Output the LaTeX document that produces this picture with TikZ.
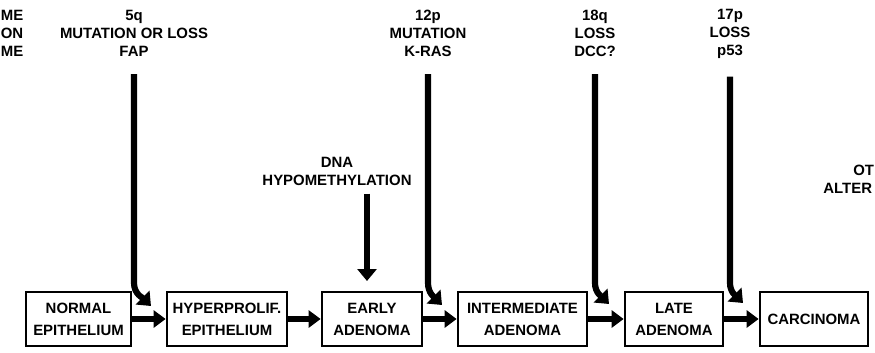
\documentclass[tikz,border=0pt]{standalone}
\usepackage{fontspec}
\setmainfont{Liberation Sans}
\usepackage{tikz}
\usetikzlibrary{arrows.meta,calc}
\pgfkeys{tikz/stagebox/.style={draw,line width=1.6pt,minimum height=1.08cm,align=center,inner sep=1pt,font=\bfseries\fontsize{8.5}{12.5}\selectfont}}
\pgfkeys{tikz/eventlabel/.style={align=center,inner sep=0pt,font=\bfseries\fontsize{8.5}{10.3}\selectfont}}
\pgfkeys{tikz/steparrow/.style={line width=3pt,-{Triangle[length=0.24cm,width=0.34cm]}}}
\pgfkeys{tikz/hitarrow/.style={line width=3.5pt,-{Triangle[length=0.24cm,width=0.38cm]}}}
\newcommand*\hitstage[2]{
    \draw[hitarrow,shorten <=0.35cm] (#1.south) -- (#1.south |- bend)
        to[out=-90,in=135] (#2);
}

\begin{document}
\begin{tikzpicture}[x=0.02cm,y=-0.02cm]
    \useasboundingbox (0,0) rectangle (875,352);
    \node[stagebox,minimum width=2.1cm] (normal) at (78.5,319) {NORMAL\\EPITHELIUM};
    \node[stagebox,minimum width=2.4cm] (hyper) at (227,319) {HYPERPROLIF.\\EPITHELIUM};
    \node[stagebox,minimum width=2.0cm] (early) at (372,319) {EARLY\\ADENOMA};
    \node[stagebox,minimum width=2.58cm] (inter) at (522.5,319) {INTERMEDIATE\\ADENOMA};
    \node[stagebox,minimum width=1.96cm] (late) at (674,319) {LATE\\ADENOMA};
    \node[stagebox,minimum width=2.16cm] (carc) at (814,319) {CARCINOMA};
    \foreach \a/\b in {normal/hyper,hyper/early,early/inter,inter/late,late/carc}
        \draw[steparrow] (\a) -- (\b);

    \node[eventlabel,anchor=west,align=left] (side) at (0.5,33) {ME\\ON\\ME};
    \node[eventlabel] (l5q) at (134,33) {5q\\MUTATION OR LOSS\\FAP};
    \node[eventlabel] (l12p) at (428,33) {12p\\MUTATION\\K-RAS};
    \node[eventlabel] (l18q) at (595,33) {18q\\LOSS\\DCC?};
    \node[eventlabel] (l17p) at (730,34) {17p\\LOSS\\p53};
    \node[eventlabel] (dna) at (337,171) {DNA\\HYPOMETHYLATION};
    \node[eventlabel,anchor=west] (other) at (853,170) {OT};
    \node[eventlabel,anchor=west] (alter) at (823,188) {ALTER};

    \coordinate (bend) at (0,283);
    \coordinate (k5q) at (151,306);
    \coordinate (k12p) at (442,305);
    \coordinate (k18q) at (609,304);
    \coordinate (k17p) at (743,303);
    \hitstage{l5q}{k5q}
    \hitstage{l12p}{k12p}
    \hitstage{l18q}{k18q}
    \hitstage{l17p}{k17p}
    \coordinate (dnatip) at (367,281);
    \draw[hitarrow,shorten <=0.16cm] (dna.south -| dnatip) -- (dnatip);
\end{tikzpicture}
\end{document}
